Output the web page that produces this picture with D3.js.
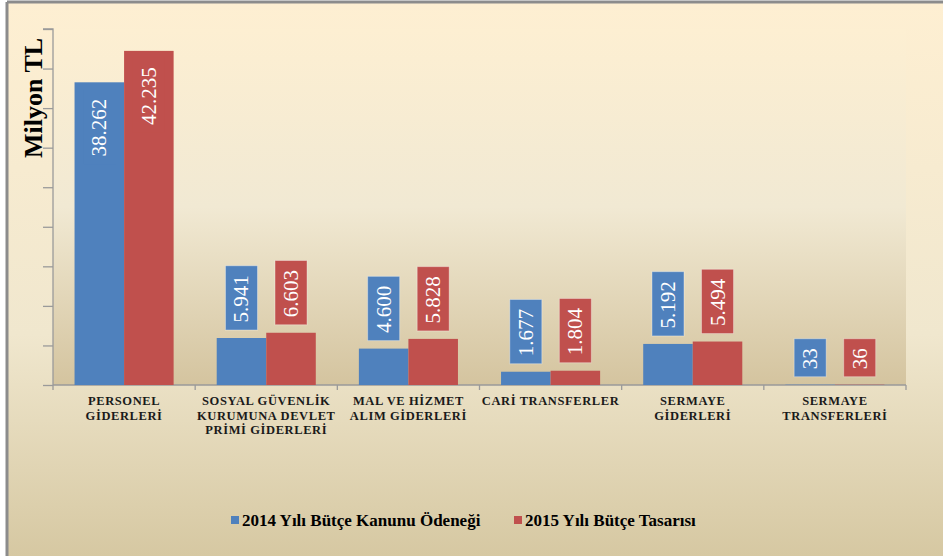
<!DOCTYPE html>
<html>
<head>
<meta charset="utf-8">
<script src="https://cdn.jsdelivr.net/npm/d3@7"></script>
<style>
  body { margin: 0; background: #fff; }
  svg { display: block; }
</style>
</head>
<body>
<script>
// categories (label lines) and the two series
var categories = [
    ["PERSONEL", "GİDERLERİ"],
    ["SOSYAL GÜVENLİK", "KURUMUNA DEVLET", "PRİMİ GİDERLERİ"],
    ["MAL VE HİZMET", "ALIM GİDERLERİ"],
    ["CARİ TRANSFERLER"],
    ["SERMAYE", "GİDERLERİ"],
    ["SERMAYE", "TRANSFERLERİ"]
];
var seriesNames = ["2014 Yılı Bütçe Kanunu Ödeneği", "2015 Yılı Bütçe Tasarısı"];
var values2014 = [38262, 5941, 4600, 1677, 5192, 33];
var values2015 = [42235, 6603, 5828, 1804, 5494, 36];
var yTicks = [0, 5000, 10000, 15000, 20000, 25000, 30000, 35000, 40000, 45000];
var colors = ["#4F81BD", "#C0504D"];

var serif = "'Liberation Serif', 'Times New Roman', serif";
var width = 943, height = 556;
var margin = {left: 53, right: 37, top: 29, bottom: 171};

var svg = d3.select("body").append("svg")
    .attr("width", width)
    .attr("height", height);

//gradients
var defs = svg.append("defs");
var bgGrad = defs.append("linearGradient").attr("id", "bgGrad")
    .attr("x1", 0).attr("y1", 0).attr("x2", 0).attr("y2", 1);
bgGrad.append("stop").attr("offset", "0%").attr("stop-color", "#FEEFD2");
bgGrad.append("stop").attr("offset", "60%").attr("stop-color", "#F0E7CE");
bgGrad.append("stop").attr("offset", "100%").attr("stop-color", "#D6C8A2");

var plotGrad = defs.append("linearGradient").attr("id", "plotGrad")
    .attr("x1", 0).attr("y1", 0).attr("x2", 0).attr("y2", 1);
plotGrad.append("stop").attr("offset", "0%").attr("stop-color", "#FDEFD2");
plotGrad.append("stop").attr("offset", "50%").attr("stop-color", "#F1E9D3");
plotGrad.append("stop").attr("offset", "100%").attr("stop-color", "#D4C49F");

//background and border
svg.append("rect")
    .attr("x", 7).attr("y", 2).attr("width", width - 7).attr("height", height - 2)
    .attr("fill", "url(#bgGrad)");
svg.append("line").attr("x1", 7).attr("y1", 2).attr("x2", width).attr("y2", 2)
    .attr("stroke", "#8c8c8c").attr("stroke-width", 3);
svg.append("line").attr("x1", 7).attr("y1", 2).attr("x2", 7).attr("y2", height)
    .attr("stroke", "#8c8c8c").attr("stroke-width", 3);

var plotW = width - margin.left - margin.right;
var plotH = height - margin.top - margin.bottom;

var g = svg.append("g").attr("transform", "translate(" + margin.left + "," + margin.top + ")");

g.append("rect").attr("width", plotW).attr("height", plotH).attr("fill", "url(#plotGrad)");

//scales
var x0 = d3.scaleBand().domain(d3.range(categories.length)).range([0, plotW]).paddingInner(0).paddingOuter(0);
var x1 = d3.scaleBand().domain([0, 1]).range([0, x0.bandwidth()]).paddingInner(0).paddingOuter(0.435);
var y = d3.scaleLinear().domain([0, 45000]).range([plotH, 0]);

//y axis (ticks only)
var yAxis = g.append("g").call(d3.axisLeft(y).tickValues(yTicks).tickSize(10).tickFormat(""));
yAxis.selectAll("line, path").attr("stroke", "#9a9a9a").attr("stroke-width", 1.3);
yAxis.select(".domain").attr("d", "M0," + plotH + "V0H-10");

//x axis baseline + separators
var xAxis = g.append("g").attr("transform", "translate(0," + plotH + ")");
xAxis.append("line").attr("x1", 0).attr("x2", plotW).attr("stroke", "#9a9a9a").attr("stroke-width", 1.3);
xAxis.selectAll(".sep").data(d3.range(categories.length + 1)).enter().append("line")
    .attr("x1", function(d) { return d * x0.step(); })
    .attr("x2", function(d) { return d * x0.step(); })
    .attr("y1", 0).attr("y2", 5)
    .attr("stroke", "#9a9a9a").attr("stroke-width", 1.3);

//bars
var rows = categories.map(function(c, i) {
    return [{s: 0, v: values2014[i], i: i}, {s: 1, v: values2015[i], i: i}];
});
var groups = g.selectAll(".grp").data(rows).enter().append("g")
    .attr("transform", function(d, i) { return "translate(" + x0(i) + ",0)"; });

groups.selectAll("rect.bar").data(function(d) { return d; }).enter().append("rect")
    .attr("class", "bar")
    .attr("x", function(d) { return x1(d.s); })
    .attr("y", function(d) { return y(d.v); })
    .attr("width", x1.bandwidth())
    .attr("height", function(d) { return plotH - y(d.v); })
    .attr("fill", function(d) { return colors[d.s]; });

//value labels (rotated, in boxes)
var fmt = function(v) { return d3.format(",")(v).replace(/,/g, "."); };
var labelFont = 21, padY = 8.5, boxW = 32;
var labels = groups.selectAll("g.lab").data(function(d) { return d; }).enter().append("g").attr("class", "lab");
labels.each(function(d) {
    var el = d3.select(this);
    var cx = x1(d.s) + x1.bandwidth() / 2;
    var t = el.append("text")
        .style("font-family", serif)
        .attr("font-size", labelFont)
        .attr("fill", "#fff")
        .attr("text-anchor", "middle")
        .attr("dominant-baseline", "central")
        .text(fmt(d.v));
    var len = t.node().getComputedTextLength();
    var boxH = len + 2 * padY;
    var inside = (plotH - y(d.v)) > boxH + 20;
    var boxBottom = inside ? y(d.v) + 7 + boxH : y(d.v) - 8;
    var cy = boxBottom - boxH / 2;
    el.insert("rect", "text")
        .attr("x", cx - boxW / 2).attr("y", boxBottom - boxH)
        .attr("width", boxW).attr("height", boxH)
        .attr("fill", colors[d.s])
        .attr("stroke", inside ? "none" : "rgba(255,255,255,0.35)");
    t.attr("transform", "translate(" + cx + "," + (cy + 1) + ") rotate(-90)");
});

//category labels
groups.append("text")
    .style("font-family", serif)
    .attr("font-weight", "bold")
    .attr("font-size", 12.5)
    .attr("letter-spacing", 0.6)
    .attr("fill", "#1a1a1a")
    .attr("text-anchor", "middle")
    .each(function(d, i) {
        var t = d3.select(this);
        categories[i].forEach(function(line, k) {
            t.append("tspan").attr("x", x0.bandwidth() / 2).attr("y", plotH + 20 + k * 14.5).text(line);
        });
    });

//y axis title
svg.append("text")
    .attr("transform", "translate(42,98) rotate(-90)")
    .style("font-family", serif)
    .attr("font-weight", "bold")
    .attr("font-size", 26)
    .attr("text-anchor", "middle")
    .attr("fill", "#000")
    .text("Milyon TL");

//legend
var legend = svg.append("g");
var legX = [231, 514];
seriesNames.forEach(function(name, i) {
    legend.append("rect").attr("x", legX[i]).attr("y", 516).attr("width", 8).attr("height", 8).attr("fill", colors[i]);
    legend.append("text").attr("x", legX[i] + 11).attr("y", 525.5)
        .style("font-family", serif)
        .attr("font-weight", "bold")
        .attr("font-size", 17)
        .attr("fill", "#000")
        .text(name);
});
</script>
</body>
</html>
